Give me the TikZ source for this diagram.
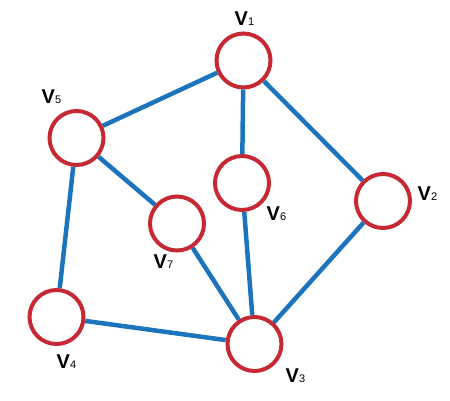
\documentclass[tikz,border=0pt]{standalone}
\usepackage{fontspec}
\setmainfont{Liberation Sans}
\definecolor{nodered}{RGB}{198,40,52}
\definecolor{edgeblue}{RGB}{28,117,188}
\begin{document}
\begin{tikzpicture}[x=1pt,y=-1pt,
  vtx/.style={circle,draw=nodered,fill=white,line width=4pt,minimum size=54pt,inner sep=0pt,outer sep=2pt},
  edge/.style={draw=edgeblue,line width=4.5pt},
  lbl/.style={anchor=base west,inner sep=0pt,font=\fontsize{20}{22}\selectfont\bfseries}]
\useasboundingbox (0,0) rectangle (450,400);
\node[vtx] (v1) at (243.5,60.5) {};
\node[vtx] (v2) at (383,201) {};
\node[vtx] (v3) at (254.5,344) {};
\node[vtx] (v4) at (56.5,317) {};
\node[vtx] (v5) at (76.5,138) {};
\node[vtx] (v6) at (242,183) {};
\node[vtx] (v7) at (177,223.5) {};
\draw[edge] (v1) -- (v5);
\draw[edge] (v1) -- (v6);
\draw[edge] (v1) -- (v2);
\draw[edge] (v5) -- (v7);
\draw[edge] (v5) -- (v4);
\draw[edge] (v6) -- (v3);
\draw[edge] (v7) -- (v3);
\draw[edge] (v4) -- (v3);
\draw[edge] (v2) -- (v3);
\node[lbl] (l1) at (234.5,25) {V\textmd{\fontsize{11}{12}\selectfont 1}};
\node[lbl] (l2) at (417.5,200) {V\textmd{\fontsize{11}{12}\selectfont 2}};
\node[lbl] (l3) at (285.5,382) {V\textmd{\fontsize{11}{12}\selectfont 3}};
\node[lbl] (l4) at (56.5,368) {V\textmd{\fontsize{11}{12}\selectfont 4}};
\node[lbl] (l5) at (41.5,103) {V\textmd{\fontsize{11}{12}\selectfont 5}};
\node[lbl] (l6) at (266.5,220) {V\textmd{\fontsize{11}{12}\selectfont 6}};
\node[lbl] (l7) at (153.5,268) {V\textmd{\fontsize{11}{12}\selectfont 7}};
\end{tikzpicture}
\end{document}
